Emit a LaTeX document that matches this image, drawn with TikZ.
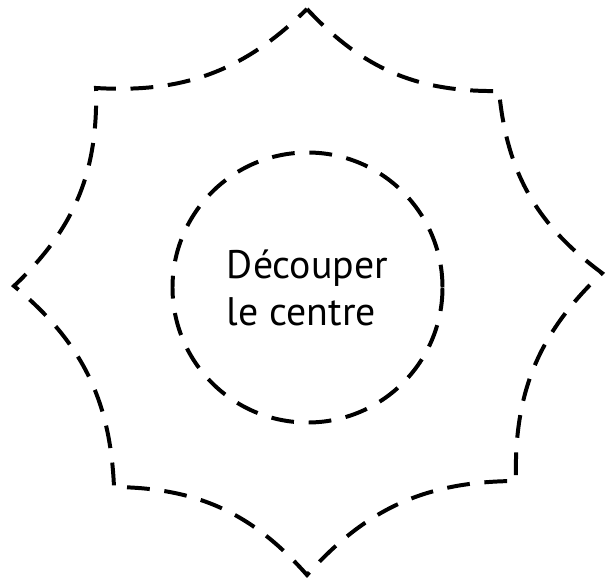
\documentclass[tikz,border=0pt]{standalone}
\usepackage{fontspec}
\setmainfont{PT Sans}
\usetikzlibrary{positioning}

\begin{document}
\begin{tikzpicture}[x=0.03cm, y=-0.03cm, cutline/.style={draw=black, line width=3.4pt, dash pattern=on 19.5pt off 12.5pt}, centrecut/.style={circle, cutline, minimum size=8.1cm, align=left, font=\fontsize{34}{40}\selectfont}]

\useasboundingbox (0,0) rectangle (613,578);

\coordinate (n) at (307,9);

\coordinate (ne) at (499,91);

\coordinate (e) at (602,273);

\coordinate (se) at (516,481);

\coordinate (s) at (307,575);

\coordinate (sw) at (114,487);

\coordinate (w) at (14,286);

\coordinate (nw) at (96,88);

\draw[cutline] (n) to[bend right=24] (ne) to[bend right=24] (e) to[bend right=24] (se) to[bend right=24] (s) to[bend right=24] (sw) to[bend right=24] (w) to[bend right=24] (nw) to[bend right=24] (n);

\node[centrecut] (centre) at (307.5,287.5) {D\'{e}couper\\le centre};

\end{tikzpicture}
\end{document}
